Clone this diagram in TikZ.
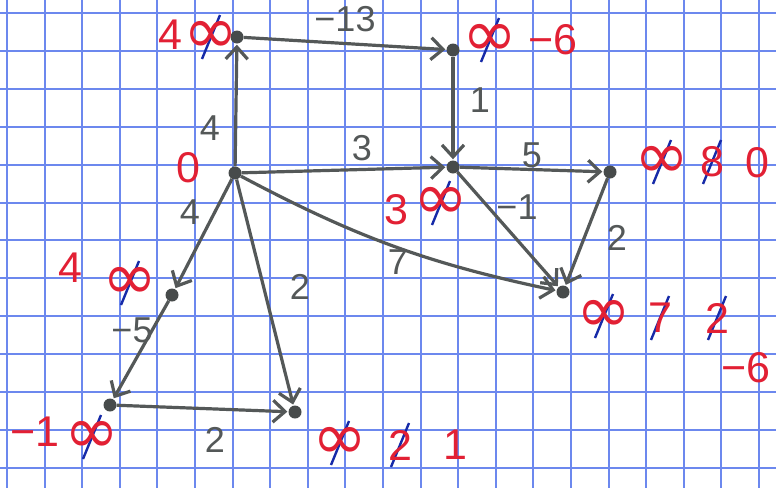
\documentclass[tikz,border=0pt]{standalone}
\usepackage{fontspec}
\setmainfont{Liberation Sans}
\newfontfamily\symfont{DejaVu Sans}
\usepackage{tikz}
\usetikzlibrary{arrows.meta,positioning,calc}

\definecolor{inkgray}{RGB}{84,88,88}
\definecolor{penred}{RGB}{226,32,52}
\definecolor{strikeblue}{RGB}{22,42,168}
\definecolor{gridblue}{RGB}{108,136,238}

\newcommand{\infmark}{{\symfont\fontsize{66}{66}\selectfont ∞}}

\begin{document}
\begin{tikzpicture}[x=1pt,y=-1pt,>={Straight Barb[length=12pt,width=22pt]},
  grid/.style={gridblue,line width=2pt},
  vtx/.style={circle,fill=inkgray!85!black,inner sep=0pt,minimum size=13pt},
  edge/.style={->,draw=inkgray,line width=3.2pt,shorten >=1pt},
  wt/.style={text=inkgray,font=\fontsize{36}{36}\selectfont,inner sep=0pt},
  dist/.style={text=penred,font=\fontsize{43}{43}\selectfont,inner sep=0pt},
  old/.style={dist,minimum height=46pt,path picture={
    \draw[strikeblue,line width=2.4pt] (path picture bounding box.center)
      +(-9pt,-22pt) -- +(9pt,22pt);}}]
  \useasboundingbox (0,0) rectangle (776,488);
  \fill[white] (0,0) rectangle (776,488);
  % squared paper
  \foreach \gx in {0,...,20}
    \draw[grid] ({7+37.6*\gx},0) -- ++(0,488);
  \foreach \gy in {0,...,12}
    \draw[grid] (0,{13+37.9*\gy}) -- ++(776,0);

  % vertices
  \node[vtx] (s) at (235,173) {};
  \node[vtx] (a) at (237,37) {};
  \node[vtx] (b) at (453,50) {};
  \node[vtx] (c) at (453,167) {};
  \node[vtx] (d) at (610,172) {};
  \node[vtx] (e) at (563,292) {};
  \node[vtx] (f) at (172,295) {};
  \node[vtx] (g) at (110,405) {};
  \node[vtx] (h) at (295,412) {};

  % arcs
  \draw[edge] (s) -- (a);
  \draw[edge] (a) -- (b);
  \draw[edge] (b) -- (c);
  \draw[edge] (s) -- (c);
  \draw[edge] (c) -- (d);
  \draw[edge] (c) -- (e);
  \draw[edge] (s) to[bend right=8] (e);
  \draw[edge] (d) -- (e);
  \draw[edge] (s) -- (f);
  \draw[edge] (f) -- (g);
  \draw[edge] (g) -- (h);
  \draw[edge] (s) -- (h);

  % weights
  \node[wt] (wsa) at (210,128) {4};
  \node[wt] (wab) at (345,19) {−13};
  \node[wt] (wbc) at (480,100) {1};
  \node[wt] (wsc) at (362,148) {3};
  \node[wt] (wcd) at (532,155) {5};
  \node[wt] (wce) at (517,207) {−1};
  \node[wt] (wde) at (617,238) {2};
  \node[wt] (wse) at (398,262) {7};
  \node[wt] (wsf) at (190,212) {4};
  \node[wt] (wsh) at (300,287) {2};
  \node[wt] (wfg) at (132,330) {−5};
  \node[wt] (wgh) at (215,440) {2};

  % distance labels
  \node[dist] (s0) at (188,168) {0};
  \node[dist] (a1) at (170,35) {4};
  \node[old] (a0) at (211,37) {\infmark};
  \node[old] (b0) at (490,40) {\infmark};
  \node[dist] (b1) at (553,40) {−6};
  \node[dist] (c1) at (396,210) {3};
  \node[old] (c0) at (441,203) {\infmark};
  \node[old] (d0) at (662,162) {\infmark};
  \node[old] (d1) at (712,162) {8};
  \node[dist] (d2) at (757,163) {0};
  \node[old] (e0) at (604,316) {\infmark};
  \node[old] (e1) at (660,318) {7};
  \node[old] (e2) at (717,318) {2};
  \node[dist] (e3) at (746,368) {−6};
  \node[dist] (f1) at (70,268) {4};
  \node[old] (f0) at (130,283) {\infmark};
  \node[dist] (g1) at (35,432) {−1};
  \node[old] (g0) at (92,437) {\infmark};
  \node[old] (h0) at (340,443) {\infmark};
  \node[old] (h1) at (400,445) {2};
  \node[dist] (h2) at (455,445) {1};
\end{tikzpicture}
\end{document}
